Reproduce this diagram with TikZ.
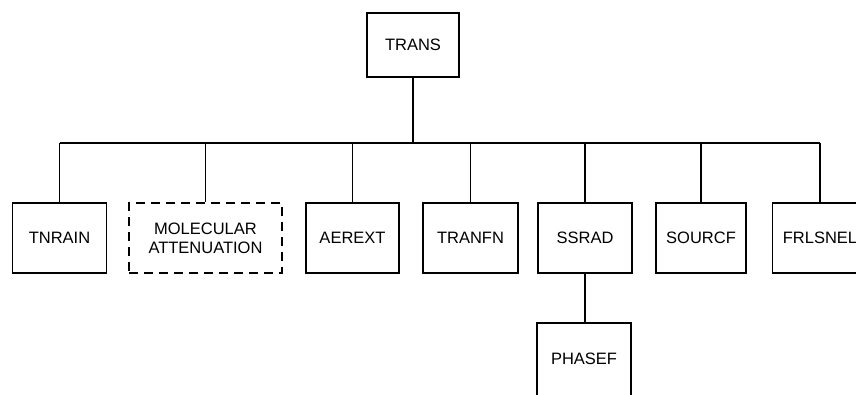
\documentclass[tikz,border=0pt]{standalone}
\usepackage{fontspec}
\setmainfont{Liberation Sans}
\usetikzlibrary{positioning}

\begin{document}
\begin{tikzpicture}[x=1pt, y=-1pt, font=\fontsize{16.5}{19}\selectfont,
       blk/.style={draw, line width=1.6pt, minimum width=94pt, minimum height=70pt,
                   align=center, inner sep=2pt},
       dblk/.style={blk, dashed, dash pattern=on 9pt off 6pt, minimum width=153pt},
       lnk/.style={line width=1.5pt}]
     \useasboundingbox (0,0) rectangle (856,394);
     \clip (0,0) rectangle (856,394);
     \node[blk, minimum width=92pt, minimum height=64pt] (trans) at (413,45) {TRANS};
     \coordinate (bus) at (413,143);
     \node[blk] (tnrain) at (59.5,238) {TNRAIN};
     \node[dblk] (molec) at (205.5,238) {MOLECULAR\\ATTENUATION};
     \node[blk, minimum width=93pt] (aerext) at (352.5,238) {AEREXT};
     \node[blk, minimum width=95pt] (tranfn) at (470.5,238) {TRANFN};
     \node[blk] (ssrad) at (585,238) {SSRAD};
     \node[blk, minimum width=90pt] (sourcf) at (701,238) {SOURCF};
     \node[blk, minimum width=95pt] (frlsnel) at (820,238) {FRLSNEL};
     \node[blk, minimum height=84pt, text depth=12pt] (phasef) at (584,365) {PHASEF};
     % tree links
     \draw[lnk] (trans.south) -- (bus);
     \draw[lnk] (tnrain.north |- bus) -- (frlsnel.north |- bus);
     \foreach \n in {tnrain, molec, aerext, tranfn, ssrad, sourcf, frlsnel}
        \draw[lnk] (\n.north |- bus) -- (\n.north);
     \draw[lnk] (ssrad.south) -- (ssrad.south |- phasef.north);
   \end{tikzpicture}
\end{document}
